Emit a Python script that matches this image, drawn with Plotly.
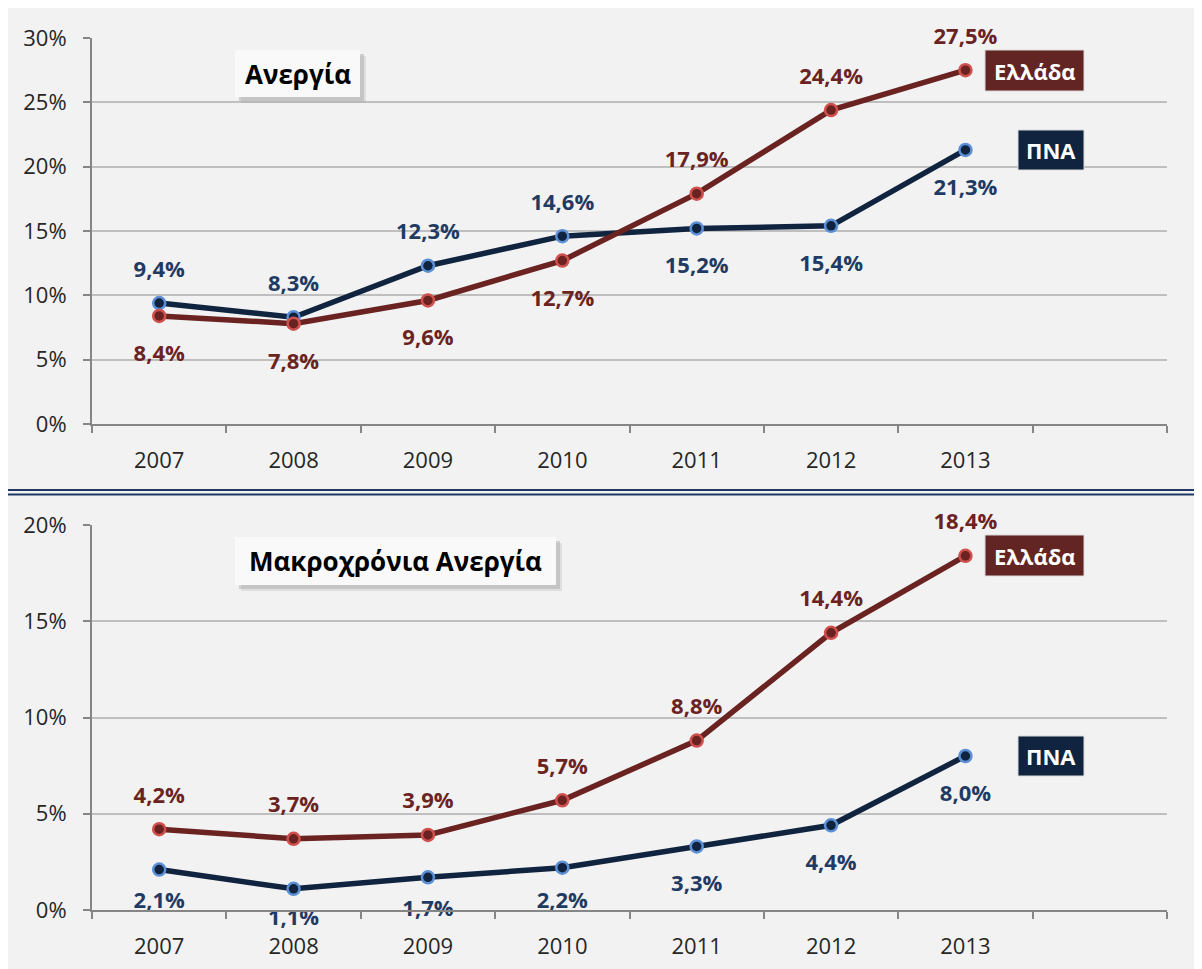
import plotly.graph_objects as go

# page body has an 8px margin, so the figure is sized to fit the 1202x969 window
OFF = 8
W, H = 1202 - OFF, 969 - OFF

years = ["2007", "2008", "2009", "2010", "2011", "2012", "2013"]
all_slots = years + [" "]

# Ανεργία (%)
pna_unemp = [9.4, 8.3, 12.3, 14.6, 15.2, 15.4, 21.3]
greece_unemp = [8.4, 7.8, 9.6, 12.7, 17.9, 24.4, 27.5]
# Μακροχρόνια Ανεργία (%)
pna_long = [2.1, 1.1, 1.7, 2.2, 3.3, 4.4, 8.0]
greece_long = [4.2, 3.7, 3.9, 5.7, 8.8, 14.4, 18.4]

RED_LINE = "#6a2321"
RED_EDGE = "#d0504d"
RED_TEXT = "#6a2321"
BLUE_LINE = "#10243f"
BLUE_EDGE = "#5b8fd6"
BLUE_TEXT = "#1f3b63"
FONT = "Open Sans"


def px_x(x):
    return max(x - OFF, 0) / W


def px_y(y):
    return 1 - max(y - OFF, 0) / H


def fmt(v):
    return f"{v:.1f}".replace(".", ",") + "%"


fig = go.Figure()


def add_line(vals, color, edge, xa, ya):
    fig.add_trace(go.Scatter(
        x=years, y=vals, mode="lines+markers", xaxis=xa, yaxis=ya,
        line=dict(color=color, width=5.5),
        marker=dict(size=12, color=color, line=dict(color=edge, width=2.5)),
        showlegend=False, hoverinfo="skip", cliponaxis=False,
    ))


T, B = "top center", "bottom center"


def add_labels(vals, positions, color, xa, ya, sizes=None):
    # invisible big markers push the text away from the points
    if sizes is None:
        sizes = [32 if p == T else 44 for p in positions]
    fig.add_trace(go.Scatter(
        x=years, y=vals, mode="markers+text", xaxis=xa, yaxis=ya,
        text=[fmt(v) for v in vals], textposition=positions,
        marker=dict(size=sizes, color="rgba(0,0,0,0)", line=dict(width=0)),
        textfont=dict(family=FONT, size=22, color=color, weight="bold"),
        showlegend=False, hoverinfo="skip", cliponaxis=False,
    ))


add_line(pna_unemp, BLUE_LINE, BLUE_EDGE, "x", "y")
add_line(greece_unemp, RED_LINE, RED_EDGE, "x", "y")
add_line(pna_long, BLUE_LINE, BLUE_EDGE, "x2", "y2")
add_line(greece_long, RED_LINE, RED_EDGE, "x2", "y2")

add_labels(pna_unemp, [T, T, T, T, B, B, B], BLUE_TEXT, "x", "y")
add_labels(greece_unemp, [B, B, B, B, T, T, T], RED_TEXT, "x", "y")
add_labels(pna_long, [B] * 7, BLUE_TEXT, "x2", "y2", sizes=[34, 30, 34, 36, 44, 44, 44])
add_labels(greece_long, [T] * 7, RED_TEXT, "x2", "y2")

axis_font = dict(family=FONT, size=22, color="#262626")
xcommon = dict(
    type="category", categoryorder="array", categoryarray=all_slots,
    range=[-0.5, 7.5], tickson="boundaries", ticks="outside", ticklen=7,
    tickcolor="#868686", tickwidth=2, showline=True, linecolor="#868686",
    linewidth=2, showgrid=False, tickfont=axis_font, ticklabelstandoff=16,
    automargin=False, fixedrange=True,
)
ycommon = dict(
    ticks="outside", ticklen=7, tickcolor="#868686", tickwidth=2,
    showline=True, linecolor="#868686", linewidth=2, showgrid=True,
    gridcolor="#bfbfbf", gridwidth=2, ticksuffix="%", dtick=5,
    tickfont=axis_font, zeroline=False, ticklabelstandoff=12,
    automargin=False, fixedrange=True,
)

xd = [px_x(92), px_x(1167)]
fig.update_layout(
    width=W, height=H, paper_bgcolor="white", plot_bgcolor="#f2f2f2",
    margin=dict(l=0, r=0, t=0, b=0, autoexpand=False),
    xaxis=dict(domain=xd, anchor="y", **xcommon),
    yaxis=dict(domain=[px_y(424), px_y(38)], range=[0, 30], anchor="x", **ycommon),
    xaxis2=dict(domain=xd, anchor="y2", **xcommon),
    yaxis2=dict(domain=[px_y(910), px_y(525)], range=[0, 20], anchor="x2", **ycommon),
)

# grey panel background and double separator line
shapes = [
    dict(type="rect", xref="paper", yref="paper", x0=0, x1=1, y0=0, y1=1,
         fillcolor="#f2f2f2", line=dict(width=0), layer="below"),
    dict(type="line", xref="paper", yref="paper", x0=0, x1=1, y0=px_y(490), y1=px_y(490),
         line=dict(color="#1f3864", width=2)),
    dict(type="line", xref="paper", yref="paper", x0=0, x1=1, y0=px_y(494.5), y1=px_y(494.5),
         line=dict(color="#1f3864", width=2)),
]


def title_box(text, x0, x1, y0, y1):
    # soft drop shadow, then the box itself
    for d, op in ((6, 0.25), (4, 0.45)):
        shapes.append(dict(type="rect", xref="paper", yref="paper",
                           x0=px_x(x0 + d), x1=px_x(x1 + d), y0=px_y(y1 + d), y1=px_y(y0 + d),
                           fillcolor="#a6a6a6", line=dict(width=0), opacity=op))
    shapes.append(dict(type="rect", xref="paper", yref="paper",
                       x0=px_x(x0), x1=px_x(x1), y0=px_y(y1), y1=px_y(y0),
                       fillcolor="#f9f9f9", line=dict(width=0)))
    fig.add_annotation(x=px_x((x0 + x1) / 2), y=px_y((y0 + y1) / 2), xref="paper", yref="paper",
                       xanchor="center", yanchor="middle", text=text, showarrow=False,
                       font=dict(family=FONT, size=26, color="black", weight="bold"))


title_box("Ανεργία", 235, 360, 50, 97)
title_box("Μακροχρόνια Ανεργία", 235, 556, 537, 585)


def tag(text, bg, x0, x1, y0, y1):
    shapes.append(dict(type="rect", xref="paper", yref="paper",
                       x0=px_x(x0), x1=px_x(x1), y0=px_y(y1), y1=px_y(y0),
                       fillcolor=bg, line=dict(color="#d9d9d9", width=1)))
    fig.add_annotation(x=px_x((x0 + x1) / 2), y=px_y((y0 + y1) / 2), xref="paper", yref="paper",
                       xanchor="center", yanchor="middle", text=text, showarrow=False,
                       font=dict(family=FONT, size=22, color="white", weight="bold"))


tag("Ελλάδα", "#632523", 985, 1084, 50, 91)
tag("ΠΝΑ", "#10243f", 1018, 1084, 130, 170)
tag("Ελλάδα", "#632523", 985, 1084, 535, 576)
tag("ΠΝΑ", "#10243f", 1018, 1084, 736, 776)

fig.update_layout(shapes=shapes)
fig.write_html("out.html")
